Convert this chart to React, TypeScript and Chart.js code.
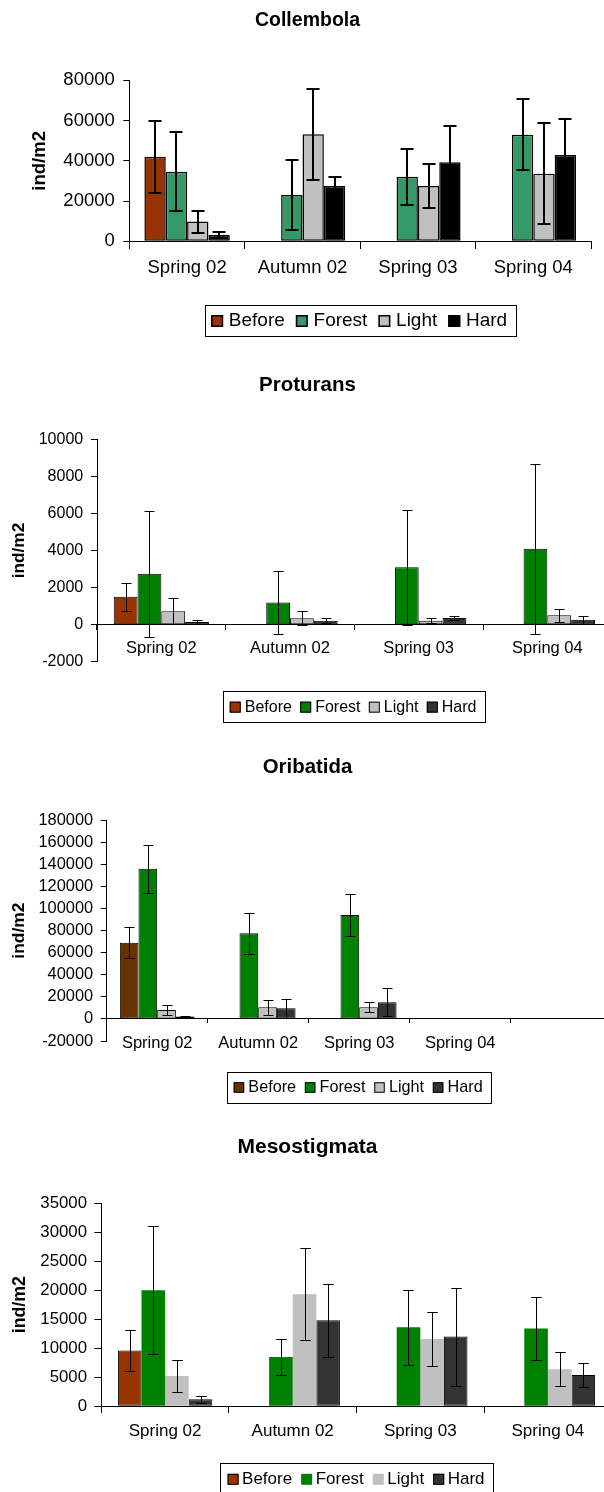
import React, { useEffect, useRef } from "react";
import { Chart, registerables } from "chart.js";

Chart.register(...registerables);

const FONT = '"Liberation Sans", Arial, Helvetica, sans-serif';

// ---------- data ----------
const categories = ["Spring 02", "Autumn 02", "Spring 03", "Spring 04"];
const oribatidaCategories = ["Spring 02", "Autumn 02", "Spring 03", "Spring 04", ""];
const seriesNames = ["Before", "Forest", "Light", "Hard"];

// Collembola
const collembolaBefore = [42000, null, null, null];
const collembolaBeforeErr = [18000, null, null, null];
const collembolaForest = [34600, 23000, 32100, 53000];
const collembolaForestErr = [19500, 17400, 13900, 17800];
const collembolaLight = [9800, 53200, 27500, 33600];
const collembolaLightErr = [5500, 22500, 10900, 25200];
const collembolaHard = [3200, 27500, 39300, 42900];
const collembolaHardErr = [1500, 4600, 18200, 17700];
const collembolaTicks = [0, 20000, 40000, 60000, 80000];

// Proturans
const proturansBefore = [1500, null, null, null];
const proturansBeforeErr = [750, null, null, null];
const proturansForest = [2750, 1200, 3100, 4100];
const proturansForestErr = [3400, 1720, 3100, 4580];
const proturansLight = [720, 340, 215, 500];
const proturansLightErr = [700, 370, 140, 340];
const proturansHard = [145, 215, 360, 270];
const proturansHardErr = [125, 130, 130, 220];
const proturansTicks = [-2000, 0, 2000, 4000, 6000, 8000, 10000];

// Oribatida
const oribatidaBefore = [69000, null, null, null, null];
const oribatidaBeforeErr = [14000, null, null, null, null];
const oribatidaForest = [136000, 77600, 94200, null, null];
const oribatidaForestErr = [21500, 18600, 19200, null, null];
const oribatidaLight = [8200, 10600, 10600, null, null];
const oribatidaLightErr = [4300, 6800, 4300, null, null];
const oribatidaHard = [2100, 9700, 15200, null, null];
const oribatidaHardErr = [1000, 8500, 12900, null, null];
const oribatidaTicks = [-20000, 0, 20000, 40000, 60000, 80000, 100000, 120000, 140000, 160000, 180000];

// Mesostigmata
const mesostigmataBefore = [9600, null, null, null];
const mesostigmataBeforeErr = [3600, null, null, null];
const mesostigmataForest = [20000, 8500, 13600, 13400];
const mesostigmataForestErr = [11000, 3050, 6500, 5350];
const mesostigmataLight = [5200, 19300, 11600, 6400];
const mesostigmataLightErr = [2700, 7900, 4600, 2900];
const mesostigmataHard = [1200, 14800, 12000, 5400];
const mesostigmataHardErr = [650, 6250, 8450, 2000];
const mesostigmataTicks = [0, 5000, 10000, 15000, 20000, 25000, 30000, 35000];

// ---------- styles ----------
const collembolaColors = ["#993300", "#339966", "#C0C0C0", "#000000"];
const proturansColors = ["#993300", "#008000", "#C0C0C0", "#333333"];
const oribatidaColors = ["#663300", "#008000", "#C0C0C0", "#333333"];
const mesostigmataColors = ["#993300", "#008000", "#C0C0C0", "#333333"];

const CANVAS_W = 615;

const panels = [
  {
    title: "Collembola",
    labels: categories,
    values: [collembolaBefore, collembolaForest, collembolaLight, collembolaHard],
    errors: [collembolaBeforeErr, collembolaForestErr, collembolaLightErr, collembolaHardErr],
    ticks: collembolaTicks,
    colors: collembolaColors,
    borders: [1.5, 1.5, 1.5, 1.5],
    top: 0, height: 345,
    titleY: 20.7, titleSize: 19.5,
    chartTop: 80.3, chartBottom: 241.3, axisX: 129.4, plotRight: 591,
    tickFont: 18.5, yTickLen: 6, yTickPad: 8.6,
    xTickLen: 7, xLabelFont: 18.5, xTickPad: 8.9,
    yTitleSize: 18.6, yTitlePad: 29.2,
    errLine: 2, errCap: 13,
    legend: { top: 305, height: 31, size: 19, swatch: 12, swatchBorder: 1.5, gap1: 5.7, gap2: 11, padL: 6.3, padR: 8.4 },
  },
  {
    title: "Proturans",
    labels: categories,
    values: [proturansBefore, proturansForest, proturansLight, proturansHard],
    errors: [proturansBeforeErr, proturansForestErr, proturansLightErr, proturansHardErr],
    ticks: proturansTicks,
    colors: proturansColors,
    borders: [1, 1, 1, 1],
    top: 345, height: 390,
    titleY: 40.7, titleSize: 20.5,
    chartTop: 94.3, chartBottom: 316.7, axisX: 97, plotRight: 611.7,
    tickFont: 16, yTickLen: 6, yTickPad: 7.8,
    xTickLen: 5, xLabelFont: 16.5, xTickPad: 9.4,
    yTitleSize: 17.3, yTitlePad: 8.9,
    errLine: 1, errCap: 10,
    legend: { top: 346, height: 31.3, size: 16, swatch: 11, swatchBorder: 1, gap1: 4, gap2: 8.3, padL: 6.5, padR: 9 },
  },
  {
    title: "Oribatida",
    labels: oribatidaCategories,
    values: [oribatidaBefore, oribatidaForest, oribatidaLight, oribatidaHard],
    errors: [oribatidaBeforeErr, oribatidaForestErr, oribatidaLightErr, oribatidaHardErr],
    ticks: oribatidaTicks,
    colors: oribatidaColors,
    borders: [1, 1, 1, 1],
    top: 735, height: 380,
    titleY: 32.3, titleSize: 20.4,
    chartTop: 85.3, chartBottom: 306, axisX: 106.7, plotRight: 611.7,
    tickFont: 16.4, yTickLen: 6, yTickPad: 7.5,
    xTickLen: 4, xLabelFont: 16.5, xTickPad: 11.1,
    yTitleSize: 17.4, yTitlePad: 8.9,
    errLine: 1, errCap: 10,
    legend: { top: 336.7, height: 30.6, size: 16.2, swatch: 10.5, swatchBorder: 1, gap1: 4.2, gap2: 8.8, padL: 6.5, padR: 8.6 },
  },
  {
    title: "Mesostigmata",
    labels: categories,
    values: [mesostigmataBefore, mesostigmataForest, mesostigmataLight, mesostigmataHard],
    errors: [mesostigmataBeforeErr, mesostigmataForestErr, mesostigmataLightErr, mesostigmataHardErr],
    ticks: mesostigmataTicks,
    colors: mesostigmataColors,
    borders: [1, 0, 0, 1],
    top: 1115, height: 377,
    titleY: 32.3, titleSize: 21,
    chartTop: 88, chartBottom: 291.3, axisX: 101.3, plotRight: 611.7,
    tickFont: 16.8, yTickLen: 7, yTickPad: 7.3,
    xTickLen: 6, xLabelFont: 17, xTickPad: 9.2,
    yTitleSize: 17.8, yTitlePad: 9.3,
    errLine: 1, errCap: 10.5,
    legend: { top: 348.3, height: 31, size: 17, swatch: 11, swatchBorder: 1, gap1: 3.5, gap2: 9, padL: 7.4, padR: 8.3 },
  },
];

// ---------- plugins ----------
const errorBarPlugin = {
  id: "errorBars",
  afterDatasetsDraw(chart: any, _args: any, opts: any) {
    const { ctx } = chart;
    const yScale = chart.scales.y;
    const lw = opts.lineWidth || 1;
    const cap = opts.cap || 10;
    ctx.save();
    ctx.strokeStyle = "#000";
    ctx.lineWidth = lw;
    chart.data.datasets.forEach((ds: any, di: number) => {
      const meta = chart.getDatasetMeta(di);
      const errs = ds.errors || [];
      meta.data.forEach((bar: any, i: number) => {
        const v = ds.data[i];
        const e = errs[i];
        if (v == null || e == null) return;
        const off = lw % 2 === 1 ? 0.5 : 0;
        const x = Math.round(bar.x) + off;
        const yHi = Math.round(yScale.getPixelForValue(v + e)) + off;
        const yLo = Math.round(yScale.getPixelForValue(v - e)) + off;
        ctx.beginPath();
        ctx.moveTo(x, yHi);
        ctx.lineTo(x, yLo);
        ctx.moveTo(x - cap / 2, yHi);
        ctx.lineTo(x + cap / 2, yHi);
        ctx.moveTo(x - cap / 2, yLo);
        ctx.lineTo(x + cap / 2, yLo);
        ctx.stroke();
      });
    });
    ctx.restore();
  },
};

const decorPlugin = {
  id: "decor",
  afterDraw(chart: any, _args: any, o: any) {
    const { ctx, chartArea } = chart;
    ctx.save();
    // title
    ctx.fillStyle = "#000";
    ctx.textAlign = "center";
    ctx.textBaseline = "middle";
    ctx.font = `bold ${o.titleSize}px ${FONT}`;
    ctx.fillText(o.title, chart.width / 2, o.titleY);

    // legend
    const L = o.legend;
    ctx.font = `${L.size}px ${FONT}`;
    const items = chart.data.datasets.map((ds: any) => ({
      text: ds.label,
      color: ds.backgroundColor,
      border: ds.borderWidth,
      w: ctx.measureText(ds.label).width,
    }));
    let total = L.padL + L.padR;
    items.forEach((it: any, i: number) => {
      total += L.swatch + L.gap1 + it.w + (i > 0 ? L.gap2 : 0);
    });
    const cx = (chartArea.left + chartArea.right) / 2;
    const left = cx - total / 2;
    ctx.strokeStyle = "#000";
    ctx.lineWidth = 1;
    ctx.strokeRect(Math.round(left) + 0.5, Math.round(L.top) + 0.5, Math.round(total), Math.round(L.height));
    const cy = L.top + L.height / 2;
    let x = left + L.padL;
    ctx.textAlign = "left";
    items.forEach((it: any, i: number) => {
      if (i > 0) x += L.gap2;
      const sy = cy - L.swatch / 2 + 0.5;
      ctx.fillStyle = it.color;
      ctx.fillRect(x, sy, L.swatch, L.swatch);
      if (it.border > 0) {
        ctx.lineWidth = L.swatchBorder;
        ctx.strokeStyle = "#000";
        ctx.strokeRect(x + L.swatchBorder / 2, sy + L.swatchBorder / 2, L.swatch - L.swatchBorder, L.swatch - L.swatchBorder);
      }
      x += L.swatch + L.gap1;
      ctx.fillStyle = "#000";
      ctx.fillText(it.text, x, cy + 0.5);
      x += it.w;
    });
    ctx.restore();
  },
};

// ---------- components ----------
function Panel({ cfg }: { cfg: any }) {
  const ref = useRef<HTMLCanvasElement>(null);
  useEffect(() => {
    if (!ref.current) return;
    const datasets = seriesNames.map((name, i) => ({
      label: name,
      data: cfg.values[i],
      errors: cfg.errors[i],
      backgroundColor: cfg.colors[i],
      borderColor: "#000",
      borderWidth: cfg.borders[i],
      borderSkipped: false,
      categoryPercentage: 0.74,
      barPercentage: 1.0,
    }));
    const ticks: number[] = cfg.ticks;
    const chart = new Chart(ref.current, {
      type: "bar",
      data: { labels: cfg.labels, datasets: datasets as any },
      plugins: [errorBarPlugin, decorPlugin],
      options: {
        animation: false,
        responsive: false,
        devicePixelRatio: 1,
        events: [],
        layout: {
          padding: {
            left: 0,
            top: cfg.chartTop,
            right: CANVAS_W - cfg.plotRight,
            bottom: cfg.height - cfg.chartBottom,
          },
        },
        plugins: {
          legend: { display: false },
          title: { display: false },
          tooltip: { enabled: false },
          errorBars: { lineWidth: cfg.errLine, cap: cfg.errCap },
          decor: {
            title: cfg.title,
            titleY: cfg.titleY,
            titleSize: cfg.titleSize,
            legend: cfg.legend,
          },
        } as any,
        scales: {
          x: {
            type: "category",
            position: { y: 0 } as any,
            offset: true,
            grid: {
              offset: true,
              drawOnChartArea: false,
              drawTicks: true,
              tickLength: cfg.xTickLen,
              color: "#000",
              lineWidth: 1,
            },
            border: { display: true, color: "#000", width: 1 },
            ticks: {
              color: "#000",
              font: { family: FONT, size: cfg.xLabelFont },
              padding: cfg.xTickPad,
              maxRotation: 0,
              minRotation: 0,
              autoSkip: false,
            },
          },
          y: {
            type: "linear",
            min: ticks[0],
            max: ticks[ticks.length - 1],
            afterBuildTicks: (scale: any) => {
              scale.ticks = ticks.map((v) => ({ value: v }));
            },
            afterFit: (scale: any) => {
              scale.width = cfg.axisX;
            },
            grid: {
              drawOnChartArea: false,
              drawTicks: true,
              tickLength: cfg.yTickLen,
              color: "#000",
              lineWidth: 1,
            },
            border: { display: true, color: "#000", width: 1 },
            ticks: {
              color: "#000",
              font: { family: FONT, size: cfg.tickFont },
              padding: cfg.yTickPad,
              autoSkip: false,
              callback: (v: any) => String(v),
            },
            title: {
              display: true,
              text: "ind/m2",
              color: "#000",
              font: { family: FONT, size: cfg.yTitleSize, weight: "bold" },
              padding: { top: cfg.yTitlePad, bottom: 0 },
            },
          },
        },
      } as any,
    });
    return () => chart.destroy();
  }, [cfg]);
  return (
    <canvas
      ref={ref}
      width={CANVAS_W}
      height={cfg.height}
      style={{ position: "absolute", left: 0, top: cfg.top, width: CANVAS_W, height: cfg.height }}
    />
  );
}

export default function App() {
  return (
    <div
      style={{
        position: "absolute",
        left: 0,
        top: 0,
        width: 604,
        height: 1492,
        overflow: "hidden",
        background: "#fff",
      }}
    >
      {panels.map((p) => (
        <Panel key={p.title} cfg={p} />
      ))}
    </div>
  );
}
